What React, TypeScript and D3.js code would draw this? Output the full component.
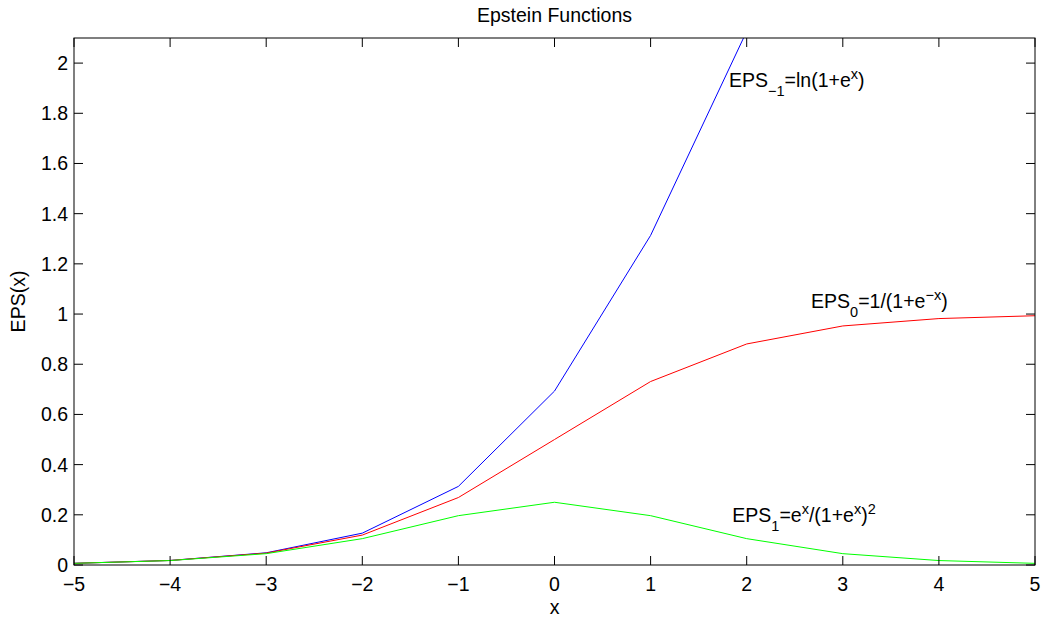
import React, { useEffect, useRef } from 'react';
import * as d3 from 'd3';

const xs = [-5, -4, -3, -2, -1, 0, 1, 2, 3, 4, 5];
const epsMinus1 = [0.0067, 0.0181, 0.0486, 0.1269, 0.3133, 0.6931, 1.3133, 2.1269, 3.0486, 4.0181, 5.0067];
const eps0 = [0.0067, 0.018, 0.0474, 0.1192, 0.2689, 0.5, 0.7311, 0.8808, 0.9526, 0.982, 0.9933];
const eps1 = [0.0066, 0.0177, 0.0452, 0.105, 0.1966, 0.25, 0.1966, 0.105, 0.0452, 0.0177, 0.0066];
const xTicks = [-5, -4, -3, -2, -1, 0, 1, 2, 3, 4, 5];
const yTicks = [0, 0.2, 0.4, 0.6, 0.8, 1, 1.2, 1.4, 1.6, 1.8, 2];

const App = () => {
  const ref = useRef<SVGSVGElement>(null);

  useEffect(() => {
    const svg = d3.select(ref.current);
    svg.selectAll('*').remove();

    const width = 1044;
    const height = 619;
    const margin = { top: 38, right: 9, bottom: 54, left: 74 };
    const font = 'Liberation Sans, Arial, Helvetica, sans-serif';
    const fs = 19.5;

    const x = d3.scaleLinear().domain([-5, 5]).range([margin.left, width - margin.right]);
    const y = d3.scaleLinear().domain([0, 2.1]).range([height - margin.bottom, margin.top]);

    svg.append('defs').append('clipPath').attr('id', 'plotclip')
      .append('rect')
      .attr('x', margin.left).attr('y', margin.top)
      .attr('width', x(5) - x(-5)).attr('height', y(0) - y(2.1));

    const line = d3.line<number>()
      .x((d, i) => x(xs[i]))
      .y(d => y(d));

    const series: [number[], string][] = [
      [epsMinus1, '#0000ff'],
      [eps0, '#ff0000'],
      [eps1, '#00ff00'],
    ];
    const g = svg.append('g').attr('clip-path', 'url(#plotclip)');
    series.forEach(([vals, color]) => {
      g.append('path')
        .datum(vals)
        .attr('fill', 'none')
        .attr('stroke', color)
        .attr('stroke-width', 1)
        .attr('d', line);
    });

    // frame + mirrored inner ticks
    const tl = 9;
    const axes = svg.append('g').attr('stroke', '#000').attr('stroke-width', 1);
    axes.append('rect')
      .attr('x', x(-5)).attr('y', y(2.1))
      .attr('width', x(5) - x(-5)).attr('height', y(0) - y(2.1))
      .attr('fill', 'none');
    xTicks.forEach(t => {
      axes.append('line').attr('x1', x(t)).attr('x2', x(t)).attr('y1', y(0)).attr('y2', y(0) - tl);
      axes.append('line').attr('x1', x(t)).attr('x2', x(t)).attr('y1', y(2.1)).attr('y2', y(2.1) + tl);
    });
    yTicks.forEach(t => {
      axes.append('line').attr('x1', x(-5)).attr('x2', x(-5) + tl).attr('y1', y(t)).attr('y2', y(t));
      axes.append('line').attr('x1', x(5)).attr('x2', x(5) - tl).attr('y1', y(t)).attr('y2', y(t));
    });

    const labels = svg.append('g').attr('font-family', font).attr('font-size', fs).attr('fill', '#000');
    xTicks.forEach(t => {
      labels.append('text')
        .attr('x', x(t)).attr('y', y(0) + 26)
        .attr('text-anchor', 'middle')
        .text(t < 0 ? `\u2212${-t}` : `${t}`);
    });
    yTicks.forEach(t => {
      labels.append('text')
        .attr('x', x(-5) - 6).attr('y', y(t) + 7)
        .attr('text-anchor', 'end')
        .text(`${t}`);
    });

    svg.append('text')
      .attr('x', (x(-5) + x(5)) / 2).attr('y', 22)
      .attr('text-anchor', 'middle')
      .attr('font-family', font).attr('font-size', fs)
      .text('Epstein Functions');
    svg.append('text')
      .attr('x', (x(-5) + x(5)) / 2).attr('y', 614)
      .attr('text-anchor', 'middle')
      .attr('font-family', font).attr('font-size', fs)
      .text('x');
    svg.append('text')
      .attr('transform', `translate(25,${(y(0) + y(2.1)) / 2}) rotate(-90)`)
      .attr('text-anchor', 'middle')
      .attr('font-family', font).attr('font-size', fs)
      .text('EPS(x)');

    // annotations: [x, y, parts] where part = [text, shift]
    const notes: [number, number, [string, number][]][] = [
      [1.816, 1.906, [['EPS', 0], ['\u22121', 9], ['=ln(1+e', 0], ['x', -8], [')', 0]]],
      [2.67, 1.026, [['EPS', 0], ['0', 9], ['=1/(1+e', 0], ['\u2212x', -8], [')', 0]]],
      [1.85, 0.171, [['EPS', 0], ['1', 9], ['=e', 0], ['x', -8], ['/(1+e', 0], ['x', -8], [')', 0], ['2', -8]]],
    ];
    notes.forEach(([nx, ny, parts]) => {
      const txt = svg.append('text')
        .attr('x', x(nx)).attr('y', y(ny))
        .attr('font-family', font).attr('font-size', fs)
        .attr('fill', '#000');
      let prev = 0;
      parts.forEach(([s, shift]) => {
        txt.append('tspan')
          .attr('dy', shift - prev)
          .attr('font-size', shift === 0 ? fs : 14.5)
          .text(s);
        prev = shift;
      });
    });
  }, []);

  return (
    <svg
      ref={ref}
      width={1044}
      height={619}
      style={{ position: 'absolute', left: 0, top: 0, background: '#fff' }}
    />
  );
};

export default App;
